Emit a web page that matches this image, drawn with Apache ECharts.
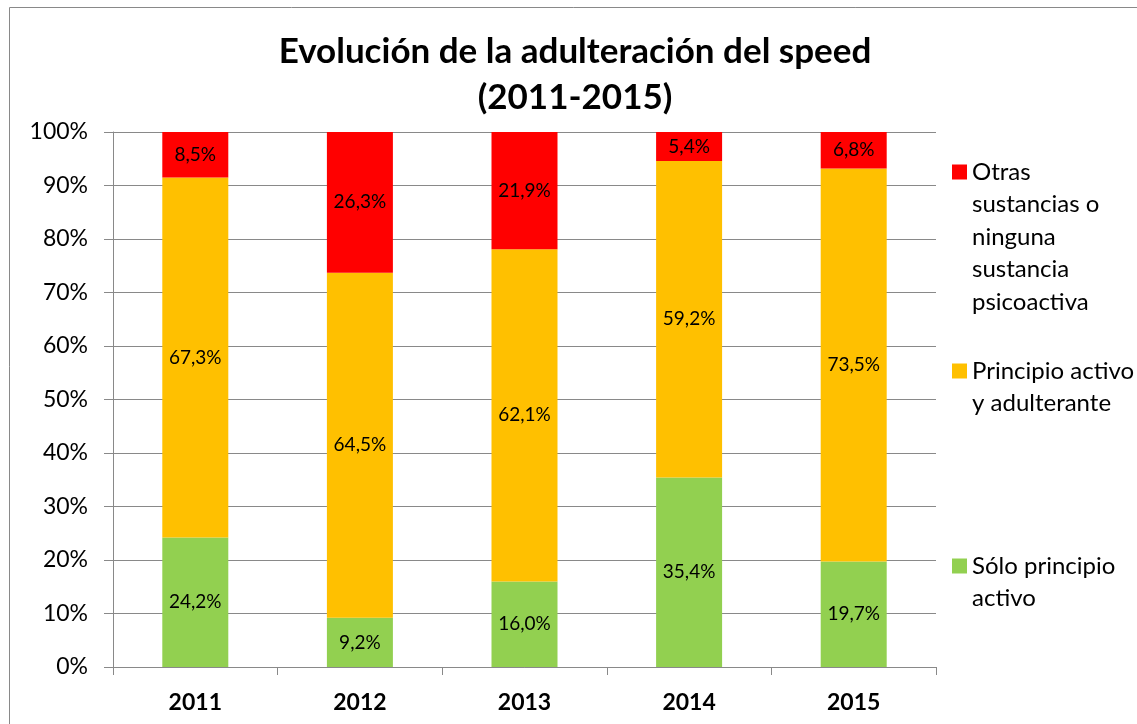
<!DOCTYPE html>
<html>
<head>
<meta charset="utf-8">
<title>Evolución de la adulteración del speed</title>
<script src="https://cdn.jsdelivr.net/npm/echarts@6/dist/echarts.min.js"></script>
<style>
  * { box-sizing: border-box; margin: 0; padding: 0; }
  html, body { width: 1137px; height: 724px; background: #fff; overflow: hidden; }
  #chart { width: 1137px; height: 724px; }
</style>
</head>
<body>
<div id="chart"></div>
<script>
  // datos
  const years = ['2011', '2012', '2013', '2014', '2015'];
  const soloPrincipio = [24.2, 9.2, 16.0, 35.4, 19.7];
  const principioAdulterante = [67.3, 64.5, 62.1, 59.2, 73.5];
  const otrasSustancias = [8.5, 26.3, 21.9, 5.4, 6.8];
  const yTicks = [0, 10, 20, 30, 40, 50, 60, 70, 80, 90, 100];

  const nameOtras = 'Otras\nsustancias o\nninguna\nsustancia\npsicoactiva';
  const namePrincipio = 'Principio activo\ny adulterante';
  const nameSolo = 'Sólo principio\nactivo';

  const font = 'Lato, "Open Sans", sans-serif';
  const gray = '#898989';
  const lineH = 32.5;

  const label = {
    show: true,
    position: 'inside',
    color: '#000',
    fontFamily: font,
    fontSize: 19,
    formatter: p => p.value.toFixed(1).replace('.', ',') + '%'
  };

  // el icono queda a la altura de la primera línea: se anteponen líneas vacías
  function legendFor(name, iconY) {
    const n = name.split('\n').length;
    const total = 2 * n - 1;
    return {
      data: [name],
      left: 952,
      top: iconY - total * lineH / 2,
      padding: 0,
      itemWidth: 15,
      itemHeight: 15,
      icon: 'rect',
      selectedMode: false,
      formatter: txt => '\n'.repeat(n - 1) + txt,
      textStyle: {
        fontFamily: font,
        fontSize: 24,
        color: '#000',
        lineHeight: lineH
      }
    };
  }

  const myChart = echarts.init(document.getElementById('chart'));
  const option = {
    animation: false,
    title: {
      text: 'Evolución de la adulteración del speed\n(2011-2015)',
      left: 575,
      top: 29,
      textAlign: 'center',
      padding: 0,
      textStyle: {
        fontFamily: font,
        fontSize: 35,
        fontWeight: 'bold',
        color: '#000',
        lineHeight: 46
      }
    },
    graphic: [{
      type: 'rect',
      shape: { x: 9.5, y: 7.5, width: 1200, height: 800 },
      style: { fill: null, stroke: gray, lineWidth: 1 },
      silent: true
    }],
    legend: [
      legendFor(nameOtras, 172),
      legendFor(namePrincipio, 371),
      legendFor(nameSolo, 566)
    ],
    grid: {
      left: 113,
      right: 201,
      top: 132,
      bottom: 57
    },
    xAxis: {
      type: 'category',
      data: years,
      axisLine: { lineStyle: { color: gray, width: 1 } },
      axisTick: { show: true, length: 8, lineStyle: { color: gray } },
      axisLabel: {
        margin: 24,
        color: '#000',
        fontFamily: font,
        fontSize: 23,
        fontWeight: 'bold'
      }
    },
    yAxis: {
      type: 'value',
      min: yTicks[0],
      max: yTicks[yTicks.length - 1],
      interval: yTicks[1] - yTicks[0],
      axisLine: { show: true, lineStyle: { color: gray, width: 1 } },
      axisTick: { show: true, length: 9, lineStyle: { color: gray } },
      splitLine: { lineStyle: { color: gray, width: 1 } },
      axisLabel: {
        margin: 25,
        color: '#000',
        fontFamily: font,
        fontSize: 23,
        formatter: '{value}%'
      }
    },
    series: [
      {
        name: nameSolo,
        type: 'bar',
        stack: 'total',
        barWidth: 66,
        itemStyle: { color: '#92D050' },
        label: label,
        data: soloPrincipio
      },
      {
        name: namePrincipio,
        type: 'bar',
        stack: 'total',
        barWidth: 66,
        itemStyle: { color: '#FFC000' },
        label: label,
        data: principioAdulterante
      },
      {
        name: nameOtras,
        type: 'bar',
        stack: 'total',
        barWidth: 66,
        itemStyle: { color: '#FF0000' },
        label: label,
        data: otrasSustancias
      }
    ]
  };

  myChart.setOption(option);
</script>
</body>
</html>
